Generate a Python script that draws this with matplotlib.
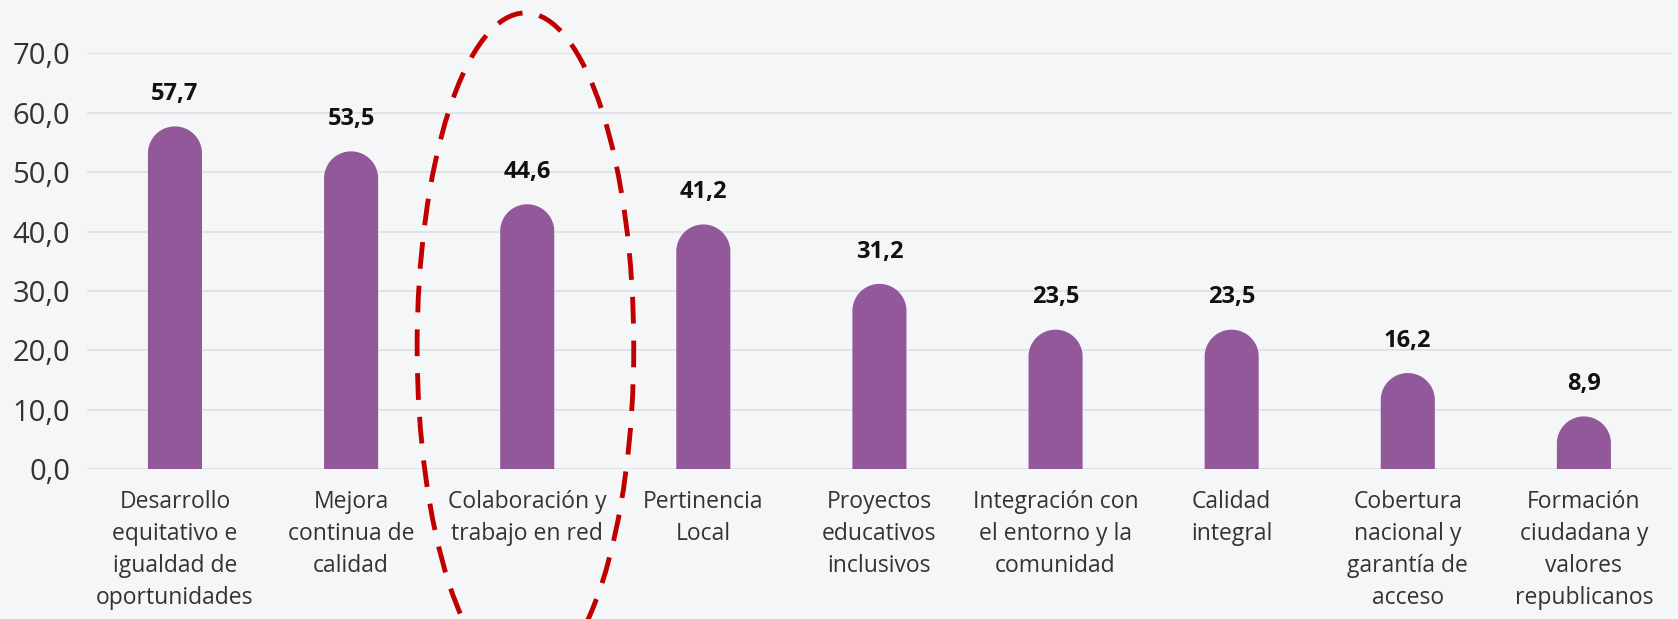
import matplotlib.pyplot as plt
from matplotlib.patches import Ellipse
import numpy as np

categories = ["Desarrollo\nequitativo e\nigualdad de\noportunidades",
              "Mejora\ncontinua de\ncalidad",
              "Colaboración y\ntrabajo en red",
              "Pertinencia\nLocal",
              "Proyectos\neducativos\ninclusivos",
              "Integración con\nel entorno y la\ncomunidad",
              "Calidad\nintegral",
              "Cobertura\nnacional y\ngarantía de\nacceso",
              "Formación\nciudadana y\nvalores\nrepublicanos"]
values = [57.7, 53.5, 44.6, 41.2, 31.2, 23.5, 23.5, 16.2, 8.9]
yticks = [0, 10, 20, 30, 40, 50, 60, 70]
highlight = 2

plt.rcParams['font.family'] = ['Open Sans', 'DejaVu Sans']

bg = '#F5F6F8'
purple = '#93589A'

fig = plt.figure(figsize=(16.78, 6.19), dpi=100, facecolor=bg)
ax = fig.add_axes([0.0518, 0.2418, 0.9446, 0.6721], facecolor=bg)
ax.set_xlim(-0.5, 8.5)
ax.set_ylim(0, 70)

x = np.arange(len(values))
bw = 0.307
# vertical radius of rounded top in data units (bar half width in pixels -> y units)
px_per_x = 0.9446 * 1678 / 9.0
px_per_y = 0.6721 * 619 / 70.0
ry = (bw / 2) * px_per_x / px_per_y

# one outline per bar: straight sides and a half-round top
t = np.linspace(np.pi, 0, 60)
for xi, v in zip(x, values):
    top = v - ry
    xs = np.concatenate([[xi - bw / 2], xi + bw / 2 * np.cos(t), [xi + bw / 2]])
    ys = np.concatenate([[0], top + ry * np.sin(t), [0]])
    ax.fill(xs, ys, color=purple, lw=0, zorder=3)
    ax.annotate(f"{v:.1f}".replace('.', ','), (xi, v), xytext=(0, 19),
                textcoords='offset points', ha='center', va='baseline',
                fontsize=17, fontweight='bold', color='#111111')

ax.set_yticks(yticks)
ax.set_yticklabels([f"{t:.1f}".replace('.', ',') for t in yticks],
                   fontsize=21, color='#333333')
ax.set_xticks(x)
ax.set_xticklabels(categories, fontsize=16.5, color='#333333', linespacing=1.45)
ax.tick_params(axis='both', length=0)
ax.tick_params(axis='y', pad=12)
ax.tick_params(axis='x', pad=15)
ax.grid(axis='y', color='#E2E3E7', linewidth=1.4, zorder=0)
for s in ax.spines.values():
    s.set_visible(False)

# dashed ellipse around the highlighted bar
ell = Ellipse((highlight - 0.01, 20.6), 1.23, 112.4, fill=False,
              edgecolor='#C00000', lw=3.5, linestyle=(0, (5.5, 3.5)),
              clip_on=False, zorder=4)
ax.add_patch(ell)

fig.savefig('out.png', dpi=100, facecolor=bg)
